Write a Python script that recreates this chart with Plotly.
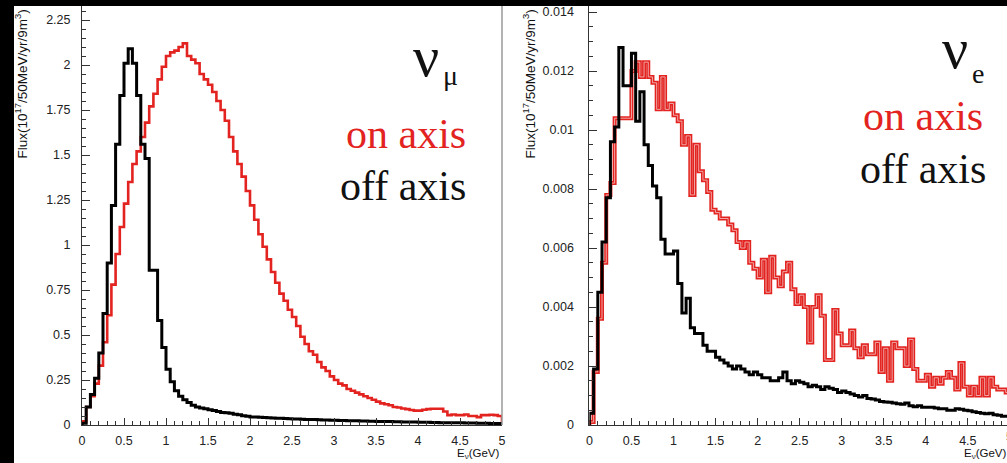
import numpy as np
import plotly.graph_objects as go

# ---------------- data (50 MeV bins, 0..5 GeV) ----------------
bin_edges = [round(0.05 * i, 2) for i in range(100)]

numu_off = [0.01, 0.10, 0.17, 0.26, 0.40, 0.62, 0.90, 1.22, 1.56, 1.83,
            2.01, 2.09, 2.01, 1.83, 1.56, 1.48, 0.86, 0.86, 0.58, 0.43,
            0.31, 0.24, 0.19, 0.16, 0.14, 0.125, 0.11, 0.10, 0.095, 0.09,
            0.085, 0.08, 0.075, 0.07, 0.068, 0.065, 0.06, 0.057, 0.052, 0.048,
            0.045, 0.044, 0.043, 0.041, 0.040, 0.039, 0.038, 0.037, 0.036, 0.035,
            0.034, 0.033, 0.032, 0.031, 0.031, 0.030, 0.029, 0.028, 0.028, 0.027,
            0.026, 0.025, 0.025, 0.024, 0.024, 0.023, 0.022, 0.022, 0.021, 0.021,
            0.020, 0.020, 0.019, 0.019, 0.018, 0.018, 0.017, 0.017, 0.016, 0.016,
            0.015, 0.015, 0.015, 0.014, 0.014, 0.013, 0.013, 0.013, 0.012, 0.012,
            0.012, 0.011, 0.011, 0.011, 0.010, 0.010, 0.010, 0.009, 0.009, 0.009]

numu_on = [0.02, 0.10, 0.16, 0.23, 0.33, 0.46, 0.61, 0.78, 0.95, 1.10,
           1.23, 1.35, 1.45, 1.52, 1.60, 1.68, 1.77, 1.84, 1.92, 1.99,
           2.05, 2.07, 2.08, 2.10, 2.12, 2.05, 2.03, 2.01, 1.95, 1.92,
           1.89, 1.85, 1.80, 1.75, 1.69, 1.60, 1.52, 1.45, 1.38, 1.30,
           1.22, 1.14, 1.06, 0.99, 0.92, 0.85, 0.79, 0.73, 0.69, 0.64,
           0.60, 0.55, 0.49, 0.45, 0.41, 0.39, 0.35, 0.32, 0.30, 0.27,
           0.25, 0.23, 0.22, 0.20, 0.19, 0.18, 0.17, 0.16, 0.15, 0.14,
           0.13, 0.12, 0.115, 0.11, 0.10, 0.097, 0.092, 0.088, 0.083, 0.08,
           0.08, 0.085, 0.088, 0.09, 0.09, 0.09, 0.075, 0.055, 0.058, 0.055,
           0.055, 0.058, 0.05, 0.05, 0.044, 0.055, 0.055, 0.057, 0.055, 0.05]

nue_off = [0.0004, 0.0019, 0.0045, 0.0062, 0.0077, 0.0096, 0.0101, 0.0128, 0.0115, 0.0115,
           0.0126, 0.0103, 0.0113, 0.0095, 0.0088, 0.0081, 0.0077, 0.0063, 0.0058, 0.0058,
           0.0059, 0.0048, 0.0038, 0.0043, 0.0033, 0.0031, 0.0031, 0.0027, 0.0025, 0.0025,
           0.0023, 0.0022, 0.0021, 0.0020, 0.0019, 0.0020, 0.0019, 0.0018, 0.0017, 0.0018,
           0.0017, 0.0016, 0.0016, 0.0015, 0.0015, 0.0016, 0.0018, 0.0015, 0.0014, 0.0015,
           0.00145, 0.0014, 0.0013, 0.00135, 0.0013, 0.0012, 0.0013, 0.00125, 0.0012, 0.0011,
           0.00115, 0.0011, 0.00105, 0.0010, 0.00095, 0.0010, 0.0009, 0.00088, 0.00085, 0.0008,
           0.00078, 0.00077, 0.00075, 0.00072, 0.0007, 0.00075, 0.00065, 0.00062, 0.00065, 0.0006,
           0.0006, 0.0006, 0.00058, 0.00055, 0.00055, 0.0005, 0.0005, 0.00055, 0.00053, 0.0005,
           0.00048, 0.00045, 0.00042, 0.0004, 0.00038, 0.0004, 0.00035, 0.00033, 0.0003, 0.0003]

nue_on = [0.0001, 0.0018, 0.0036, 0.0055, 0.0078, 0.0082, 0.0104, 0.0104, 0.0104, 0.0104,
          0.0120, 0.0123, 0.0118, 0.0123, 0.0118, 0.0116, 0.0107, 0.0118, 0.0107, 0.0109,
          0.0105, 0.0103, 0.0095, 0.0098, 0.0078, 0.0095, 0.0086, 0.0083, 0.0079, 0.0073,
          0.0072, 0.0070, 0.0070, 0.0068, 0.0066, 0.0062, 0.0060, 0.0062, 0.0055, 0.0053,
          0.0050, 0.0056, 0.0045, 0.0057, 0.0050, 0.0047, 0.0052, 0.0055, 0.0046, 0.0041,
          0.0044, 0.0040, 0.0028, 0.0040, 0.0044, 0.0037, 0.0022, 0.0022, 0.0039, 0.0031,
          0.0027, 0.0027, 0.0032, 0.0026, 0.0023, 0.0027, 0.0024, 0.0024, 0.0028, 0.0018,
          0.0026, 0.0015, 0.0028, 0.0026, 0.0026, 0.0020, 0.0029, 0.0019, 0.0015, 0.0015,
          0.0017, 0.0013, 0.0016, 0.0014, 0.0016, 0.0018, 0.0016, 0.0012, 0.0021, 0.0013,
          0.0010, 0.0013, 0.0010, 0.0016, 0.0010, 0.0016, 0.0013, 0.0012, 0.0012, 0.0011]

x_tickvals = [0, 0.5, 1, 1.5, 2, 2.5, 3, 3.5, 4, 4.5, 5]
x_ticktext = ["0", "0.5", "1", "1.5", "2", "2.5", "3", "3.5", "4", "4.5", "5"]
y1_tickvals = [0, 0.25, 0.5, 0.75, 1, 1.25, 1.5, 1.75, 2, 2.25]
y1_ticktext = ["0", "0.25", "0.5", "0.75", "1", "1.25", "1.5", "1.75", "2", "2.25"]
y2_tickvals = [0, 0.002, 0.004, 0.006, 0.008, 0.01, 0.012, 0.014]
y2_ticktext = ["0", "0.002", "0.004", "0.006", "0.008", "0.01", "0.012", "0.014"]

# ---------------- layout geometry (pixels) ----------------
W, H = 1007, 463
def px(x):
    return x / W
def py(y):
    return 1 - y / H

RED = "#e3231f"
AXC = "#333333"
SANS = "Liberation Sans, Arial, sans-serif"
SERIF = "Liberation Serif, Times New Roman, serif"


def step(vals):
    xs = [0.0] + list(bin_edges) + [5.0, 5.0]
    ys = [0.0] + list(vals) + [vals[-1], 0.0]
    return xs, ys


fig = go.Figure()

for vals, color, xa, ya, w in [
    (numu_on, RED, "x", "y", 2.6),
    (numu_off, "#000000", "x", "y", 3.0),
    (nue_on, RED, "x2", "y2", 4.0),
    (nue_off, "#000000", "x2", "y2", 3.0),
]:
    xs, ys = step(vals)
    fig.add_trace(go.Scatter(x=xs, y=ys, mode="lines", xaxis=xa, yaxis=ya,
                             line=dict(color=color, width=w, shape="hv"),
                             hoverinfo="skip", showlegend=False))
    if xa == "x2" and color == RED:
        fig.add_trace(go.Scatter(x=xs, y=ys, mode="lines", xaxis=xa, yaxis=ya,
                                 line=dict(color="#f0b4b2", width=0.9, shape="hv"),
                                 hoverinfo="skip", showlegend=False))

tickfont = dict(family=SANS, size=12.5, color="#222")

common_x = dict(showgrid=False, zeroline=False, showline=True, linecolor=AXC, linewidth=1,
                ticks="inside", ticklen=7, tickcolor=AXC, tickwidth=1,
                tickvals=x_tickvals, ticktext=x_ticktext, tickfont=tickfont,
                ticklabelstandoff=4,
                minor=dict(ticks="inside", ticklen=4, dtick=0.1, tick0=0, tickcolor=AXC))

fig.update_layout(
    width=W, height=H,
    margin=dict(l=0, r=0, t=0, b=0, pad=0, autoexpand=False),
    paper_bgcolor="white", plot_bgcolor="white",
    xaxis=dict(domain=[px(82), px(502)], range=[0, 5], anchor="y", **common_x),
    yaxis=dict(domain=[1 - 425 / H, 1 - 6 / H], range=[0, (425 - 6) / 180.0], anchor="x",
               showgrid=False, zeroline=False, showline=True, linecolor=AXC, linewidth=1,
               ticks="inside", ticklen=8, tickcolor=AXC, tickvals=y1_tickvals,
               ticktext=y1_ticktext, tickfont=tickfont, ticklabelstandoff=8,
               minor=dict(ticks="inside", ticklen=4, dtick=0.05, tick0=0, tickcolor=AXC)),
    xaxis2=dict(domain=[px(589.4), 1], range=[0, (W - 589.4) / 84.1], anchor="y2", **common_x),
    yaxis2=dict(domain=[1 - 425 / H, 1 - 6 / H], range=[0, (425 - 6) / 29500.0], anchor="x2",
                showgrid=False, zeroline=False, showline=True, linecolor=AXC, linewidth=1,
                ticks="inside", ticklen=8, tickcolor=AXC, tickvals=y2_tickvals,
                ticktext=y2_ticktext, tickfont=tickfont, ticklabelstandoff=12,
                minor=dict(ticks="inside", ticklen=4, dtick=0.0005, tick0=0, tickcolor=AXC)),
)

shapes = [
    dict(type="line", xref="paper", yref="paper", x0=px(502), x1=px(502), y0=py(425), y1=py(6),
         line=dict(color="#9a9a9a", width=1.5), layer="above"),
    dict(type="rect", xref="paper", yref="paper", x0=-0.01, x1=1.01, y0=py(6), y1=1.01,
         fillcolor="black", line=dict(width=0), layer="above"),
    dict(type="rect", xref="paper", yref="paper", x0=-0.01, x1=px(14), y0=-0.01, y1=1.01,
         fillcolor="black", line=dict(width=0), layer="above"),
]
fig.update_layout(shapes=shapes)

ytitle = "Flux(10<sup>17</sup>/50MeV/yr/9m<sup>3</sup>)"
xtitle = "E<sub>ν</sub>(GeV)"

ann = []
for xc in (21, 529):
    ann.append(dict(text=ytitle, x=px(xc), y=py(8), xref="paper", yref="paper",
                    xanchor="center", yanchor="top", textangle=-90, showarrow=False,
                    font=dict(family=SANS, size=13.5, color="#111")))
for xr in (502, 1009):
    ann.append(dict(text=xtitle, x=px(xr), y=py(454), xref="paper", yref="paper",
                    xanchor="right", yanchor="middle", showarrow=False,
                    font=dict(family=SANS, size=11.5, color="#111")))
# cropped "5" tick label of the right panel
ann.append(dict(text="5", x=px(1009), y=py(437), xref="paper", yref="paper",
                xanchor="center", yanchor="middle", showarrow=False, font=tickfont))

# big labels
def label(text, xc, ymid, size, color, anchor="center"):
    ann.append(dict(text=text, x=px(xc), y=py(ymid), xref="paper", yref="paper",
                    xanchor=anchor, yanchor="middle", showarrow=False,
                    font=dict(family=SERIF, size=size, color=color)))

label("ν", 426, 56, 58, "#111")
label("μ", 450, 76, 28, "#111")
label("on axis", 468, 134, 42, RED, "right")
label("off axis", 468, 186, 42, "#111", "right")
label("ν", 955, 49, 58, "#111")
label("e", 978, 73, 28, "#111")
label("on axis", 985, 116, 42, RED, "right")
label("off axis", 988, 169, 42, "#111", "right")

fig.update_layout(annotations=ann)
fig.write_html("out.html")
